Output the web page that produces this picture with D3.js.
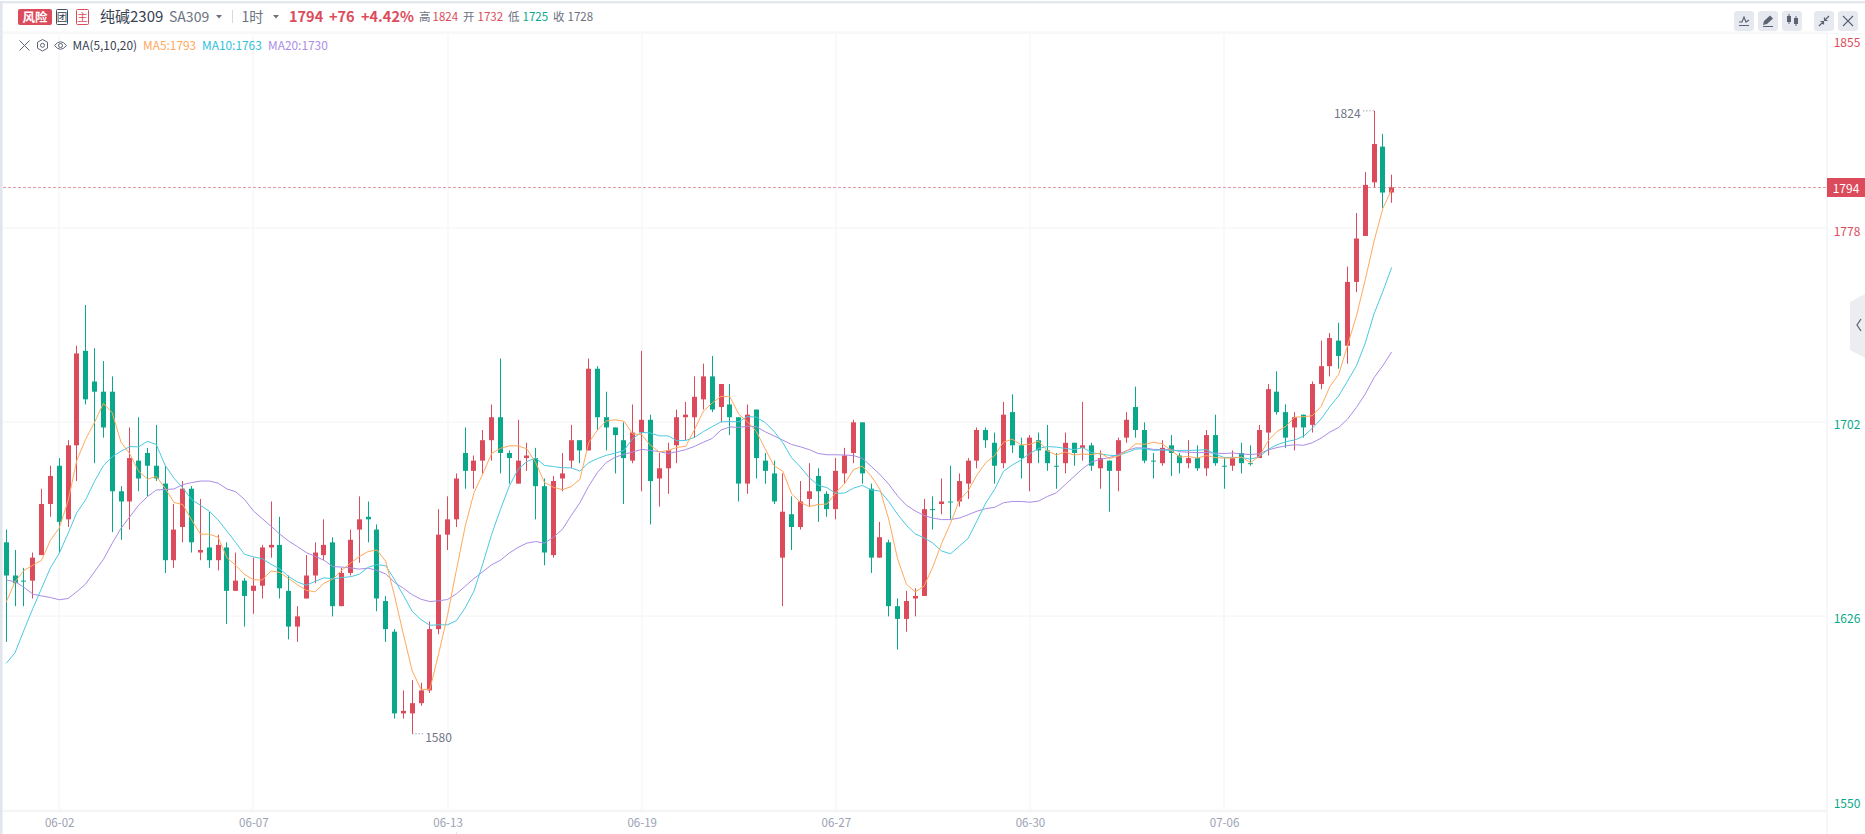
<!DOCTYPE html>
<html><head><meta charset="utf-8">
<script src="https://cdn.jsdelivr.net/npm/d3@7"></script>
<style>html,body{margin:0;background:#fff;overflow:hidden}svg{display:block}text{font-family:"Noto Sans CJK SC","Noto Sans",sans-serif}</style>
</head><body><div id="chart"></div>
<script>
const open=[1655,1642,1640,1640,1650,1670,1685,1664,1693,1730,1718,1714,1714,1675,1671,1687,1690,1685,1678,1648,
1661,1676,1651,1653,1648,1653,1636,1640,1636,1638,1653,1654,1636,1622,1633,1642,1650,1655,1630,1643,
1660,1665,1660,1632,1620,1588,1588,1592,1597,1621,1658,1664,1690,1683,1687,1695,1704,1690,1678,1688,
1688,1677,1650,1680,1687,1695,1691,1723,1704,1700,1695,1687,1698,1703,1680,1684,1693,1704,1704,1711,
1720,1708,1709,1704,1678,1707,1687,1682,1649,1666,1661,1672,1681,1674,1668,1682,1690,1702,1676,1649,
1655,1630,1625,1633,1634,1668,1670,1671,1671,1678,1687,1699,1694,1686,1706,1693,1686,1695,1691,1685,
1686,1694,1692,1693,1684,1687,1683,1696,1708,1699,1687,1686,1693,1689,1686,1688,1684,1697,1685,1685,
1690,1686,1688,1698,1714,1706,1700,1705,1701,1717,1724,1734,1732,1757,1775,1796,1810,1792];
const high=[1660,1652,1645,1651,1676,1685,1688,1695,1732,1748,1731,1726,1720,1677,1700,1704,1692,1701,1685,1670,
1679,1677,1672,1667,1658,1655,1651,1641,1649,1654,1671,1665,1642,1630,1650,1655,1664,1657,1645,1660,
1673,1671,1662,1634,1621,1597,1601,1600,1624,1668,1673,1682,1700,1689,1699,1709,1727,1691,1703,1694,
1692,1680,1681,1690,1701,1695,1727,1724,1714,1700,1702,1709,1730,1705,1690,1694,1707,1710,1720,1725,
1728,1717,1717,1704,1709,1707,1690,1687,1682,1673,1679,1686,1684,1675,1688,1692,1703,1702,1678,1663,
1656,1633,1636,1637,1672,1673,1680,1685,1682,1688,1700,1700,1698,1710,1713,1696,1697,1698,1701,1690,
1698,1694,1710,1694,1691,1687,1696,1706,1716,1702,1690,1695,1697,1690,1695,1693,1699,1705,1688,1691,
1694,1693,1701,1717,1722,1709,1706,1705,1718,1734,1737,1741,1763,1784,1800,1824,1815,1799];
const low=[1616,1630,1630,1633,1650,1665,1651,1661,1679,1709,1686,1696,1659,1656,1660,1675,1673,1679,1643,1645,
1655,1651,1648,1645,1644,1623,1636,1622,1627,1633,1649,1633,1617,1616,1633,1639,1648,1626,1630,1642,
1647,1655,1628,1616,1586,1586,1580,1591,1596,1619,1652,1661,1676,1676,1682,1687,1682,1678,1678,1683,
1664,1646,1649,1675,1684,1686,1691,1699,1691,1682,1670,1686,1675,1662,1669,1674,1686,1695,1696,1707,
1706,1702,1697,1671,1674,1680,1678,1670,1630,1652,1660,1669,1663,1665,1664,1678,1686,1678,1643,1649,
1626,1613,1620,1626,1634,1660,1666,1664,1669,1672,1684,1692,1678,1684,1690,1680,1675,1686,1683,1676,
1682,1685,1687,1683,1676,1667,1675,1694,1696,1686,1680,1685,1681,1682,1684,1683,1681,1685,1676,1683,
1682,1685,1688,1689,1705,1692,1691,1696,1698,1715,1720,1723,1725,1753,1775,1794,1786,1788];
const close=[1642,1639,1640,1649,1670,1681,1663,1693,1729,1711,1714,1700,1675,1671,1688,1680,1685,1680,1648,1660,
1676,1655,1652,1648,1654,1636,1640,1634,1638,1653,1654,1637,1622,1626,1642,1651,1654,1630,1643,1656,
1664,1664,1633,1621,1588,1589,1592,1597,1621,1658,1664,1680,1683,1687,1695,1704,1690,1688,1687,1689,
1677,1651,1679,1682,1695,1691,1723,1704,1700,1697,1688,1698,1703,1679,1684,1691,1704,1705,1712,1720,
1707,1717,1704,1678,1705,1688,1683,1671,1667,1661,1671,1675,1675,1668,1683,1689,1702,1682,1649,1657,
1630,1625,1632,1634,1668,1668,1671,1671,1679,1687,1699,1695,1685,1705,1693,1688,1696,1691,1686,1685,
1694,1690,1693,1685,1688,1683,1695,1703,1699,1687,1687,1692,1690,1686,1688,1684,1697,1686,1685,1688,
1686,1686,1699,1715,1706,1696,1704,1700,1717,1724,1735,1728,1757,1774,1795,1811,1792,1794];
const ma5=[1631.7,1639.6,1644,1646,
1648.0,1655.8,1660.6,1671.2,1687.2,1695.4,1702.0,1709.4,1705.8,1694.2,1689.6,1682.8,1679.8,1680.8,1676.2,1670.6,1669.8,1663.8,1658.2,1658.2,
1657.0,1649.0,1646.0,1642.4,1640.4,1640.2,1643.8,1643.2,1640.8,1638.4,1636.2,1635.6,1639.0,1640.6,1644.0,1646.8,1649.4,1651.4,1652.0,1647.6,
1634.0,1619.0,1604.6,1597.4,1597.4,1611.4,1626.4,1644.0,1661.2,1674.4,1681.8,1689.8,1691.8,1692.8,1692.8,1691.6,1686.2,1678.4,1676.6,1675.6,
1676.8,1679.6,1694.0,1699.0,1702.6,1703.0,1702.4,1697.4,1697.2,1693.0,1690.4,1691.0,1692.2,1692.6,1699.2,1706.4,1709.6,1712.2,1712.0,1705.2,
1702.2,1698.4,1691.6,1685.0,1682.8,1674.0,1670.6,1669.0,1669.8,1670.0,1674.4,1678.0,1683.4,1684.8,1681.0,1675.8,1664.0,1648.6,1638.6,1635.6,
1637.8,1645.4,1654.6,1662.4,1671.4,1675.2,1681.4,1686.2,1689.0,1694.2,1695.4,1693.2,1693.4,1694.6,1690.8,1689.2,1690.4,1689.2,1689.6,1689.4,
1690.0,1687.8,1688.8,1690.8,1693.6,1693.4,1694.2,1693.6,1691.0,1688.4,1688.6,1688.0,1689.0,1688.2,1688.0,1688.0,1688.4,1686.2,1688.8,1694.8,
1698.4,1700.4,1704.0,1704.2,1704.6,1708.2,1716.0,1720.8,1732.2,1743.6,1757.8,1773.0,1785.8,1793.2];
const ma10=[1607.6,1611.8,1620.6,1629,1637,1645,1650.7,1658.5,1666.7,
1671.7,1678.9,1685.0,1688.5,1690.7,1692.5,1692.4,1694.6,1693.3,1685.2,1680.1,1676.3,1671.8,1669.5,1667.2,1663.8,1659.4,1654.9,1650.3,1649.3,
1648.6,1646.4,1644.6,1641.6,1639.4,1638.2,1639.7,1641.1,1640.7,1641.2,1641.5,1642.5,1645.2,1646.3,1645.8,1640.4,1634.2,1628.0,1624.7,1622.5,
1622.7,1622.7,1624.3,1629.3,1635.9,1646.6,1658.1,1667.9,1677.0,1683.6,1686.7,1688.0,1685.1,1684.7,1684.2,1684.2,1682.9,1686.2,1687.8,1689.1,
1689.9,1691.0,1695.7,1698.1,1697.8,1696.7,1696.7,1694.8,1694.9,1696.1,1698.4,1700.3,1702.2,1702.3,1702.2,1704.3,1704.0,1701.9,1698.5,1694.0,
1688.1,1684.5,1680.3,1677.4,1676.4,1674.2,1674.3,1676.2,1677.3,1675.5,1675.1,1671.0,1666.0,1661.7,1658.3,1656.8,1654.7,1651.6,1650.5,1653.5,
1656.5,1663.4,1670.4,1675.7,1682.8,1685.3,1687.3,1689.8,1691.8,1692.5,1692.3,1691.8,1691.3,1692.1,1690.1,1689.6,1689.1,1689.0,1690.2,1691.5,
1691.7,1691.0,1691.2,1690.9,1691.0,1691.0,1691.1,1691.3,1689.6,1688.2,1688.3,1688.2,1687.6,1688.5,1691.4,1693.2,1694.4,1695.1,1696.5,1699.7,
1703.3,1708.2,1712.4,1718.2,1724.1,1733.0,1744.5,1753.3,1762.7];
const ma20=[1640.2,1639.6,1637.4,1634.7,1634,1633.4,1632.5,1633,1635.7,1638.7,1643.5,1648.3,1654.6,1660.5,1665,1669.6,1672.9,1675.5,1675.7,
1675.9,1677.6,1678.4,1679.0,1679.0,1678.2,1675.9,1674.8,1671.8,1667.3,1664.3,1661.3,1658.2,1655.5,1653.3,1651.0,1649.5,1648.0,1645.5,1645.3,
1645.0,1644.5,1644.9,1644.0,1642.6,1639.3,1637.0,1634.5,1632.7,1631.8,1632.1,1632.6,1634.8,1637.8,1640.8,1643.5,1646.2,1648.0,1650.8,1653.0,
1654.7,1655.3,1654.7,1657.0,1660.0,1665.4,1670.5,1677.0,1682.4,1686.3,1688.3,1689.5,1690.4,1691.4,1691.0,1690.5,1689.8,1690.5,1691.3,1692.6,
1694.2,1695.7,1699.0,1700.2,1700.0,1700.5,1700.3,1698.3,1696.7,1695.0,1693.3,1692.4,1691.3,1689.8,1689.3,1689.3,1689.2,1689.0,1687.9,1684.8,
1681.6,1677.8,1673.2,1669.5,1667.3,1665.5,1664.5,1663.9,1663.9,1664.5,1665.8,1667.2,1668.2,1668.7,1670.5,1671.0,1671.0,1670.7,1671.2,1673.0,
1674.4,1677.6,1680.8,1683.9,1686.5,1687.5,1688.2,1689.4,1691.0,1692.0,1692.0,1691.4,1691.3,1691.5,1690.5,1690.3,1690.1,1690.2,1689.9,1689.8,
1690.0,1689.6,1689.4,1689.7,1691.2,1692.1,1692.8,1693.2,1693.0,1694.0,1695.8,1698.2,1700.0,1703.3,1707.8,1713.1,1719.5,1724.2,1729.6];
const yTicks=[1855,1778,1702,1626,1550];
const xTickIndex=[6,28,50,72,94,116,138];
const xTickLabels=["06-02","06-07","06-13","06-19","06-27","06-30","07-06"];
const lastPrice=1794, highPoint={i:155,v:1824}, lowPoint={i:46,v:1580};

const W=1865,H=834,RED="#dc4b5b",GREEN="#0aa88a",C5="#ffa95c",C10="#4cc9e1",C20="#ab8ce6",AX="#9aa1b3";
const svg=d3.select("#chart").append("svg").attr("width",W).attr("height",H);
const x=d3.scaleLinear().domain([0,157]).range([6.3,1391.7]);
const y=d3.scaleLinear().domain([1778,1550]).range([228.3,810.4]);

// frame
svg.append("rect").attr("x",0).attr("y",1).attr("width",W).attr("height",2.4).attr("fill","#e4e8ef");
svg.append("rect").attr("x",0).attr("y",1).attr("width",2.6).attr("height",H).attr("fill","#e1e6ed");
svg.append("rect").attr("x",3).attr("y",33).attr("width",W).attr("height",1).attr("fill","#f6f7f9");

// grid
const grid=svg.append("g");
grid.selectAll(".v").data(xTickIndex).join("rect").attr("x",d=>Math.round(x(d))-1).attr("y",33).attr("width",2).attr("height",778).attr("fill","#f8f9fb");
grid.selectAll(".h").data(yTicks).join("rect").attr("x",3).attr("y",d=>Math.round(y(d))-.5).attr("width",1824).attr("height",1.2).attr("fill","#f5f6f8");

// axes
svg.append("rect").attr("x",1826.5).attr("y",33).attr("width",1).attr("height",H-33).attr("fill","#eef0f3");
const yOff=[10.5,2.5,2.2,2,-7];
const yAxis=svg.append("g").attr("transform","translate(1827,0)").call(d3.axisRight(y).tickValues(yTicks).tickSize(0).tickPadding(0).tickFormat(d3.format("d")));
yAxis.select(".domain").remove();
yAxis.selectAll("text").attr("x",20).attr("text-anchor","middle").attr("dy",null).attr("dominant-baseline",null)
  .attr("y",(d,i)=>yOff[i]+4.4).attr("font-size",12).attr("font-family",null).attr("fill",d=>d>=1778?RED:GREEN);
const xAxis=svg.append("g").attr("transform","translate(0,811)").call(d3.axisBottom(x).tickValues(xTickIndex).tickSize(0).tickPadding(0).tickFormat((d,i)=>xTickLabels[i]));
xAxis.select(".domain").attr("stroke","#f1f2f5").attr("d","M3,0.5H1827");
xAxis.selectAll("text").attr("y",15.5).attr("dy",null).attr("font-size",11.5).attr("fill",AX);
svg.append("rect").attr("x",Math.round(x(50))+8).attr("y",H-2).attr("width",1).attr("height",2).attr("fill","#e1e6ed");

// current price
svg.append("line").attr("x1",3).attr("x2",1827).attr("y1",y(lastPrice)).attr("y2",y(lastPrice))
  .attr("stroke","#e39aa3").attr("stroke-width",1).attr("stroke-dasharray","3,2");
svg.append("rect").attr("x",1827).attr("y",178).attr("width",38).attr("height",19).attr("fill",RED);
svg.append("text").attr("x",1846).attr("y",192.5).attr("text-anchor","middle").attr("font-size",12).attr("fill","#fff").text(lastPrice);

// candles
const idx=d3.range(close.length);
const up=i=>close[i]>open[i];
const cx=i=>Math.floor(x(i));
const candles=svg.append("g");
candles.selectAll(".w").data(idx).join("rect").attr("x",cx).attr("width",1)
  .attr("y",i=>y(high[i])).attr("height",i=>y(low[i])-y(high[i])).attr("fill",i=>up(i)?RED:GREEN);
candles.selectAll(".b").data(idx).join("rect").attr("x",i=>cx(i)-2).attr("width",5)
  .attr("y",i=>y(Math.max(open[i],close[i]))).attr("height",i=>Math.max(1,Math.abs(y(open[i])-y(close[i])))).attr("fill",i=>up(i)?RED:GREEN);

// MA lines
const line=d3.line().x((d,i)=>x(i)).y(d=>y(d));
[[ma20,C20],[ma10,C10],[ma5,C5]].forEach(([s,c])=>svg.append("path").attr("d",line(s)).attr("fill","none").attr("stroke",c).attr("stroke-width",1));

// extremes
const hx=x(highPoint.i),hy=y(highPoint.v),lx=x(lowPoint.i),ly=y(lowPoint.v);
svg.append("line").attr("x1",hx-11).attr("x2",hx).attr("y1",hy).attr("y2",hy).attr("stroke","#8a90a0").attr("stroke-dasharray","1.2,2");
svg.append("text").attr("x",hx-13.5).attr("y",hy+7).attr("text-anchor","end").attr("font-size",12).attr("fill","#6f7585").text(highPoint.v);
svg.append("line").attr("x1",lx).attr("x2",lx+11).attr("y1",ly).attr("y2",ly).attr("stroke","#8a90a0").attr("stroke-dasharray","1.2,2");
svg.append("text").attr("x",lx+13).attr("y",ly+8.5).attr("font-size",12).attr("fill","#6f7585").text(lowPoint.v);

// header
const t=(px,py,s,fs,col,extra={})=>{const e=svg.append("text").attr("x",px).attr("y",py).attr("font-size",fs).attr("fill",col).text(s);Object.entries(extra).forEach(([k,v])=>e.attr(k,v));return e;};
svg.append("rect").attr("x",18).attr("y",9).attr("width",34).attr("height",16).attr("rx",2).attr("fill",RED);
t(35,21.5,"风险",12.5,"#fff",{"text-anchor":"middle","font-weight":700});
svg.append("rect").attr("x",56.5).attr("y",9.5).attr("width",11).attr("height",15).attr("rx",1).attr("fill","#fff").attr("stroke","#444c5c");
t(62,21,"团",10.5,"#333b4b",{"text-anchor":"middle"});
svg.append("rect").attr("x",76.5).attr("y",9.5).attr("width",12).attr("height",15).attr("rx",1).attr("fill","#fff").attr("stroke",RED);
t(82.5,21,"主",10.5,RED,{"text-anchor":"middle"});
t(100,21.5,"纯碱2309",15,"#3b4252");
t(169,21.5,"SA309",14,"#6b7280");
svg.append("path").attr("d","M216,15h6l-3,3.5z").attr("fill","#6b7280");
svg.append("rect").attr("x",232).attr("y",10).attr("width",1).attr("height",13).attr("fill","#d5d9e0");
t(241.5,21.5,"1时",14,"#6b7280");
svg.append("path").attr("d","M273,15h6l-3,3.5z").attr("fill","#6b7280");
t(289,21.5,"1794",14.5,RED,{"font-weight":700});
t(329,21.5,"+76",14.5,RED,{"font-weight":700});
t(361,21.5,"+4.42%",14.5,RED,{"font-weight":700});
[[419,"高","#6b7280"],[432.5,"1824",RED],[463,"开","#6b7280"],[477.5,"1732",RED],[508,"低","#6b7280"],[522.5,"1725",GREEN],[553,"收","#6b7280"],[567.5,"1728","#6b7280"]]
  .forEach(([a,s,c])=>t(a,20.5,s,11.5,c));

// indicator row
const ic="#5c6373";
const g2=svg.append("g").attr("fill","none").attr("stroke",ic).attr("stroke-width",1);
g2.append("path").attr("d","M19.5,40.5L29.5,50.5M29.5,40.5L19.5,50.5");
g2.append("path").attr("d","M42.5,39.5L47.5,42.2V48.2L42.5,51L37.5,48.2V42.2Z");
g2.append("circle").attr("cx",42.5).attr("cy",45.3).attr("r",2);
g2.append("path").attr("d","M54.5,45.5Q60.5,38 66.5,45.5Q60.5,53 54.5,45.5Z");
g2.append("circle").attr("cx",60.5).attr("cy",45.5).attr("r",2);
t(72.5,49.5,"MA(5,10,20)",11.9,"#3b4252");
t(143,49.5,"MA5:1793",11.9,C5);
t(202,49.5,"MA10:1763",11.9,"#2fc0dc");
t(268,49.5,"MA20:1730",11.9,C20);

// top-right buttons
const bx=[1734,1758,1782,1814,1838];
svg.selectAll(".btn").data(bx).join("rect").attr("x",d=>d).attr("y",11).attr("width",20).attr("height",20).attr("rx",3).attr("fill","#e6e9ef");
const ig=svg.append("g").attr("fill","none").attr("stroke","#5c6373").attr("stroke-width",1.2);
ig.append("path").attr("d","M1739,22L1742,22L1744,17L1746,22L1749,20M1739,25.5H1749");
svg.append("path").attr("d","M1763,25L1764,21L1770,15.5L1773,18.5L1767,24Z").attr("fill","#5c6373");
svg.append("path").attr("d","M1763,26.5H1773").attr("stroke","#5c6373").attr("stroke-width",1);
svg.append("path").attr("d","M1787,16h4v6h-4zM1794,18h4v6h-4z").attr("fill","#5c6373");
svg.append("path").attr("d","M1789,14v10M1796,16v10").attr("stroke","#5c6373");
ig.append("path").attr("d","M1819,26L1823,22M1829,16L1825,20M1820.5,21.5H1823.5V24.5M1827.5,20.5H1824.5V17.5");
ig.append("path").attr("d","M1843,16L1853,26M1853,16L1843,26");

// side tab
svg.append("path").attr("d","M1865,294L1850,302V350L1865,358Z").attr("fill","#ecedf1");
svg.append("path").attr("d","M1861,319L1857,325L1861,331").attr("fill","none").attr("stroke","#5c6373").attr("stroke-width",1.3);
</script></body></html>
